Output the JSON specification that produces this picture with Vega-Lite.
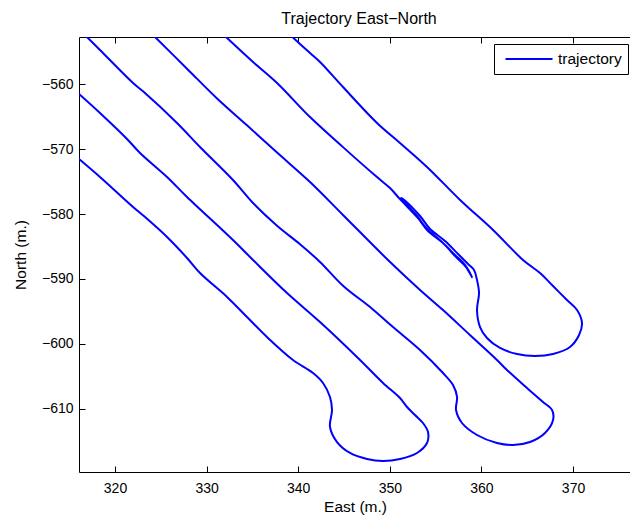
{
  "$schema": "https://vega.github.io/schema/vega-lite/v6.json",
  "autosize": "none",
  "padding": {"left": 79, "top": 37, "right": 0, "bottom": 48},
  "width": 552,
  "height": 435,
  "background": "white",
  "title": {"text": "Trajectory East−North", "fontSize": 16, "fontWeight": "normal", "font": "Liberation Sans", "color": "black", "offset": 10, "dx": 4},
  "datasets": {
    "traj": [
      {"leg": 1, "i": 1, "east": 316.07, "north": -571.51},
      {"leg": 1, "i": 2, "east": 318.36, "north": -574.28},
      {"leg": 1, "i": 3, "east": 321.97, "north": -578.91},
      {"leg": 1, "i": 4, "east": 323.28, "north": -580.46},
      {"leg": 1, "i": 5, "east": 325.68, "north": -583.53},
      {"leg": 1, "i": 6, "east": 327.86, "north": -586.76},
      {"leg": 1, "i": 7, "east": 329.28, "north": -589.08},
      {"leg": 1, "i": 8, "east": 332.23, "north": -592.77},
      {"leg": 1, "i": 9, "east": 334.41, "north": -595.86},
      {"leg": 1, "i": 10, "east": 336.59, "north": -598.94},
      {"leg": 1, "i": 11, "east": 339.43, "north": -602.48},
      {"leg": 1, "i": 12, "east": 341.62, "north": -604.48},
      {"leg": 1, "i": 13, "east": 342.71, "north": -606.02},
      {"leg": 1, "i": 14, "east": 343.47, "north": -608.18},
      {"leg": 1, "i": 15, "east": 343.69, "north": -610.19},
      {"leg": 1, "i": 16, "east": 343.47, "north": -612.81},
      {"leg": 1, "i": 17, "east": 344.24, "north": -615.12},
      {"leg": 1, "i": 18, "east": 345.66, "north": -616.81},
      {"leg": 1, "i": 19, "east": 347.51, "north": -617.74},
      {"leg": 1, "i": 20, "east": 349.26, "north": -618.04},
      {"leg": 1, "i": 21, "east": 351.11, "north": -617.74},
      {"leg": 1, "i": 22, "east": 352.97, "north": -616.81},
      {"leg": 1, "i": 23, "east": 354.06, "north": -615.27},
      {"leg": 1, "i": 24, "east": 354.17, "north": -613.58},
      {"leg": 1, "i": 25, "east": 353.62, "north": -612.19},
      {"leg": 1, "i": 26, "east": 352.75, "north": -610.96},
      {"leg": 1, "i": 27, "east": 351.88, "north": -609.72},
      {"leg": 1, "i": 28, "east": 351.11, "north": -608.34},
      {"leg": 1, "i": 29, "east": 349.26, "north": -606.02},
      {"leg": 1, "i": 30, "east": 346.75, "north": -602.48},
      {"leg": 1, "i": 31, "east": 342.38, "north": -596.63},
      {"leg": 1, "i": 32, "east": 338.78, "north": -592.16},
      {"leg": 1, "i": 33, "east": 335.07, "north": -587.07},
      {"leg": 1, "i": 34, "east": 332.88, "north": -583.99},
      {"leg": 1, "i": 35, "east": 327.86, "north": -577.36},
      {"leg": 1, "i": 36, "east": 325.68, "north": -574.28},
      {"leg": 1, "i": 37, "east": 322.73, "north": -570.58},
      {"leg": 1, "i": 38, "east": 321.31, "north": -568.42},
      {"leg": 1, "i": 39, "east": 318.36, "north": -564.42},
      {"leg": 1, "i": 40, "east": 316.07, "north": -561.49},
      {"leg": 2, "i": 41, "east": 316.94, "north": -552.71},
      {"leg": 2, "i": 42, "east": 318.36, "north": -554.71},
      {"leg": 2, "i": 43, "east": 321.97, "north": -559.80},
      {"leg": 2, "i": 44, "east": 323.06, "north": -561.08},
      {"leg": 2, "i": 45, "east": 326.77, "north": -565.96},
      {"leg": 2, "i": 46, "east": 329.28, "north": -569.66},
      {"leg": 2, "i": 47, "east": 332.88, "north": -574.74},
      {"leg": 2, "i": 48, "east": 335.07, "north": -578.29},
      {"leg": 2, "i": 49, "east": 337.69, "north": -581.79},
      {"leg": 2, "i": 50, "east": 340.20, "north": -584.65},
      {"leg": 2, "i": 51, "east": 342.38, "north": -587.37},
      {"leg": 2, "i": 52, "east": 344.89, "north": -591.03},
      {"leg": 2, "i": 53, "east": 348.06, "north": -594.57},
      {"leg": 2, "i": 54, "east": 350.35, "north": -597.40},
      {"leg": 2, "i": 55, "east": 353.30, "north": -600.94},
      {"leg": 2, "i": 56, "east": 355.81, "north": -604.49},
      {"leg": 2, "i": 57, "east": 356.90, "north": -606.34},
      {"leg": 2, "i": 58, "east": 357.34, "north": -608.18},
      {"leg": 2, "i": 59, "east": 357.23, "north": -610.19},
      {"leg": 2, "i": 60, "east": 357.88, "north": -612.19},
      {"leg": 2, "i": 61, "east": 359.52, "north": -614.04},
      {"leg": 2, "i": 62, "east": 361.70, "north": -615.27},
      {"leg": 2, "i": 63, "east": 363.45, "north": -615.58},
      {"leg": 2, "i": 64, "east": 365.31, "north": -615.12},
      {"leg": 2, "i": 65, "east": 366.94, "north": -613.73},
      {"leg": 2, "i": 66, "east": 367.82, "north": -611.73},
      {"leg": 2, "i": 67, "east": 367.71, "north": -610.19},
      {"leg": 2, "i": 68, "east": 366.72, "north": -608.95},
      {"leg": 2, "i": 69, "east": 364.98, "north": -606.80},
      {"leg": 2, "i": 70, "east": 362.79, "north": -604.02},
      {"leg": 2, "i": 71, "east": 361.70, "north": -602.48},
      {"leg": 2, "i": 72, "east": 358.75, "north": -598.63},
      {"leg": 2, "i": 73, "east": 355.81, "north": -594.78},
      {"leg": 2, "i": 74, "east": 353.30, "north": -591.69},
      {"leg": 2, "i": 75, "east": 349.80, "north": -587.07},
      {"leg": 2, "i": 76, "east": 344.89, "north": -580.13},
      {"leg": 2, "i": 77, "east": 341.29, "north": -575.05},
      {"leg": 2, "i": 78, "east": 337.60, "north": -570.40},
      {"leg": 2, "i": 79, "east": 334.41, "north": -566.32},
      {"leg": 2, "i": 80, "east": 331.14, "north": -562.18},
      {"leg": 2, "i": 81, "east": 327.86, "north": -557.59},
      {"leg": 2, "i": 82, "east": 324.37, "north": -552.71},
      {"leg": 3, "i": 83, "east": 332.12, "north": -552.71},
      {"leg": 3, "i": 84, "east": 335.07, "north": -556.56},
      {"leg": 3, "i": 85, "east": 337.69, "north": -559.80},
      {"leg": 3, "i": 86, "east": 341.29, "north": -565.05},
      {"leg": 3, "i": 87, "east": 344.89, "north": -569.68},
      {"leg": 3, "i": 88, "east": 348.60, "north": -574.30},
      {"leg": 3, "i": 89, "east": 350.02, "north": -575.99},
      {"leg": 3, "i": 90, "east": 351.11, "north": -577.69},
      {"leg": 3, "i": 91, "east": 353.08, "north": -580.62},
      {"leg": 3, "i": 92, "east": 354.17, "north": -582.62},
      {"leg": 3, "i": 93, "east": 355.81, "north": -584.47},
      {"leg": 3, "i": 94, "east": 357.23, "north": -586.63},
      {"leg": 3, "i": 95, "east": 358.32, "north": -588.17},
      {"leg": 3, "i": 96, "east": 358.97, "north": -589.71},
      {"leg": 3, "i": 97, "east": 358.86, "north": -589.38},
      {"leg": 3, "i": 98, "east": 358.21, "north": -587.84},
      {"leg": 3, "i": 99, "east": 357.12, "north": -586.29},
      {"leg": 3, "i": 100, "east": 355.70, "north": -584.29},
      {"leg": 3, "i": 101, "east": 354.06, "north": -582.29},
      {"leg": 3, "i": 102, "east": 352.97, "north": -580.29},
      {"leg": 3, "i": 103, "east": 351.22, "north": -577.52},
      {"leg": 3, "i": 104, "east": 351.44, "north": -577.67},
      {"leg": 3, "i": 105, "east": 353.30, "north": -580.29},
      {"leg": 3, "i": 106, "east": 354.39, "north": -582.29},
      {"leg": 3, "i": 107, "east": 356.03, "north": -584.14},
      {"leg": 3, "i": 108, "east": 357.45, "north": -586.14},
      {"leg": 3, "i": 109, "east": 358.54, "north": -587.68},
      {"leg": 3, "i": 110, "east": 359.19, "north": -588.61},
      {"leg": 3, "i": 111, "east": 359.52, "north": -590.15},
      {"leg": 3, "i": 112, "east": 359.74, "north": -592.18},
      {"leg": 3, "i": 113, "east": 359.52, "north": -594.78},
      {"leg": 3, "i": 114, "east": 359.85, "north": -597.40},
      {"leg": 3, "i": 115, "east": 360.61, "north": -599.09},
      {"leg": 3, "i": 116, "east": 362.03, "north": -600.63},
      {"leg": 3, "i": 117, "east": 363.89, "north": -601.56},
      {"leg": 3, "i": 118, "east": 365.85, "north": -601.86},
      {"leg": 3, "i": 119, "east": 367.82, "north": -601.56},
      {"leg": 3, "i": 120, "east": 369.67, "north": -600.48},
      {"leg": 3, "i": 121, "east": 370.66, "north": -598.63},
      {"leg": 3, "i": 122, "east": 370.98, "north": -596.78},
      {"leg": 3, "i": 123, "east": 370.44, "north": -594.78},
      {"leg": 3, "i": 124, "east": 369.34, "north": -593.24},
      {"leg": 3, "i": 125, "east": 367.71, "north": -590.93},
      {"leg": 3, "i": 126, "east": 366.40, "north": -589.08},
      {"leg": 3, "i": 127, "east": 364.54, "north": -587.07},
      {"leg": 3, "i": 128, "east": 361.27, "north": -582.45},
      {"leg": 3, "i": 129, "east": 357.67, "north": -577.82},
      {"leg": 3, "i": 130, "east": 354.06, "north": -572.73},
      {"leg": 3, "i": 131, "east": 351.11, "north": -569.03},
      {"leg": 3, "i": 132, "east": 348.60, "north": -565.95},
      {"leg": 3, "i": 133, "east": 344.89, "north": -560.42},
      {"leg": 3, "i": 134, "east": 342.38, "north": -556.56},
      {"leg": 3, "i": 135, "east": 341.29, "north": -555.18},
      {"leg": 3, "i": 136, "east": 339.36, "north": -552.71}
    ]
  },
  "data": {"name": "traj"},
  "layer": [
    {
      "mark": {"type": "line", "strokeWidth": 2, "clip": true, "interpolate": "catmull-rom", "strokeJoin": "round", "strokeCap": "round"},
      "encoding": {
        "x": {
          "field": "east", "type": "quantitative",
          "scale": {"domain": [316.07, 376.33], "zero": false, "nice": false},
          "axis": {"orient": "bottom", "values": [320, 330, 340, 350, 360, 370], "title": "East (m.)", "labelPadding": 15, "titlePadding": 4}
        },
        "y": {
          "field": "north", "type": "quantitative",
          "scale": {"domain": [-619.74, -552.71], "zero": false, "nice": false},
          "axis": {"orient": "left", "values": [-610, -600, -590, -580, -570, -560], "title": "North (m.)", "labelPadding": 12, "titlePadding": 13}
        },
        "detail": {"field": "leg"},
        "order": {"field": "i", "type": "quantitative"},
        "color": {
          "datum": "trajectory",
          "scale": {"range": ["#0000ff"]},
          "legend": {
            "title": null, "orient": "none", "legendX": 415, "legendY": 7,
            "strokeColor": "black", "fillColor": "white", "padding": 6,
            "symbolType": "M-3,0L3,0", "symbolSize": 246, "symbolStrokeWidth": 2, "symbolFillColor": "transparent",
            "symbolOffset": 20, "labelOffset": 20, "labelFontSize": 15.5, "labelFont": "Liberation Sans", "labelColor": "black"
          }
        }
      }
    },
    {
      "mark": {"type": "point", "opacity": 0},
      "encoding": {
        "x": {
          "field": "east", "type": "quantitative",
          "axis": {"orient": "top", "values": [320, 330, 340, 350, 360, 370], "labels": false, "title": null}
        }
      }
    }
  ],
  "resolve": {"axis": {"x": "independent"}},
  "config": {
    "font": "Liberation Sans",
    "view": {"stroke": null},
    "axis": {
      "grid": false, "tickSize": -6, "domainColor": "black", "tickColor": "black",
      "labelColor": "black", "titleColor": "black", "labelFontSize": 14, "titleFontSize": 15.5,
      "titleFontWeight": "normal", "labelFont": "Liberation Sans", "titleFont": "Liberation Sans",
      "domainWidth": 1, "tickWidth": 1
    }
  }
}
